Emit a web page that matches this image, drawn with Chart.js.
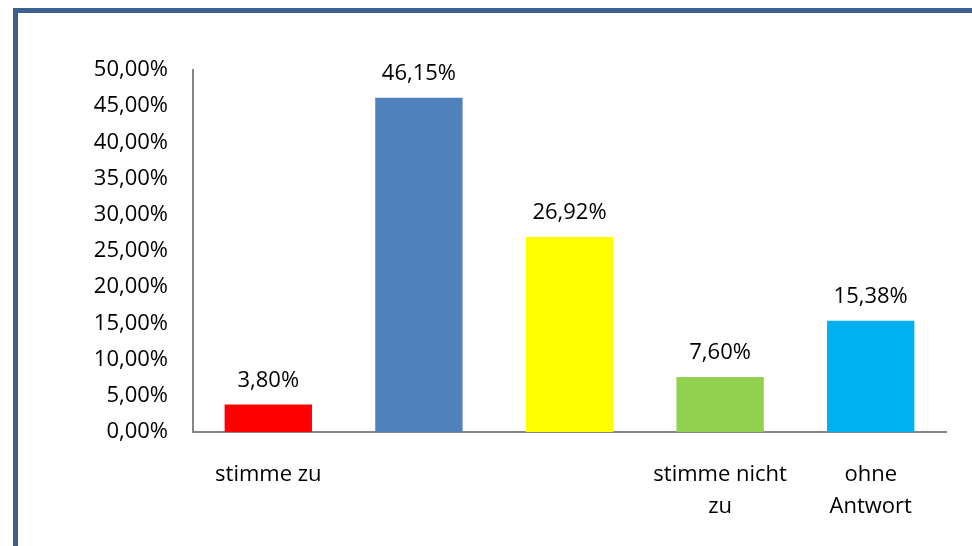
<!DOCTYPE html>
<html>
<head>
<meta charset="utf-8">
<script src="https://cdn.jsdelivr.net/npm/chart.js@4"></script>
<style>
    body { margin: 0; background: #fff; overflow: hidden; }
    #wrap { position: relative; width: 972px; height: 546px; }
    #frame {
        position: absolute; left: 13px; top: 8px; width: 1000px; height: 600px;
        border-left: 5px solid #3b5f8e; border-top: 5px solid #3b5f8e;
        pointer-events: none;
    }
</style>
</head>
<body>
<div id="wrap">
    <canvas id="chart"></canvas>
    <div id="frame"></div>
</div>
<script>
const categories = ['stimme zu', '', '', ['stimme nicht', 'zu'], ['ohne', 'Antwort']];
const values = [3.80, 46.15, 26.92, 7.60, 15.38];
const barColors = ['#ff0000', '#4f81bd', '#ffff00', '#92d050', '#00b0f0'];

const fontFamily = '"Open Sans", sans-serif';

function pct(v) {
    return v.toFixed(2).replace('.', ',') + '%';
}

// labels drawn above each bar
const valueLabels = {
    id: 'valueLabels',
    afterDatasetsDraw(chart) {
        let ctx = chart.ctx;
        let meta = chart.getDatasetMeta(0);
        ctx.save();
        ctx.font = '22px ' + fontFamily;
        ctx.fillStyle = '#000';
        ctx.textAlign = 'center';
        ctx.textBaseline = 'middle';
        meta.data.forEach((bar, i) => {
            ctx.fillText(pct(values[i]), bar.x, bar.y - 24);
        });
        ctx.restore();
    }
};

let ctx = document.getElementById('chart').getContext('2d');
let myChart = new Chart(ctx, {
    type: 'bar',
    data: {
        labels: categories,
        datasets: [{
            data: values,
            backgroundColor: barColors,
            borderWidth: 0,
            barPercentage: 0.58,
            categoryPercentage: 1
        }]
    },
    options: {
        responsive: true,
        maintainAspectRatio: false,
        animation: false,
        layout: { padding: { top: 70, right: 26, left: 0, bottom: 0 } },
        plugins: {
            legend: { display: false },
            tooltip: { enabled: false }
        },
        scales: {
            x: {
                grid: { display: false, drawTicks: false },
                border: { display: true, color: '#868686', width: 2 },
                ticks: {
                    color: '#000',
                    padding: 27,
                    maxRotation: 0,
                    autoSkip: false,
                    font: { family: fontFamily, size: 22, lineHeight: 1.45 }
                },
                afterFit(scale) { scale.height = 114; }
            },
            y: {
                min: 0,
                max: 50,
                grid: { display: false, drawTicks: false },
                border: { display: true, color: '#868686', width: 2 },
                ticks: {
                    stepSize: 5,
                    color: '#000',
                    padding: 25,
                    font: { family: fontFamily, size: 22 },
                    callback: v => pct(v)
                },
                afterFit(scale) { scale.width = 193; }
            }
        }
    },
    plugins: [valueLabels]
});
</script>
</body>
</html>
